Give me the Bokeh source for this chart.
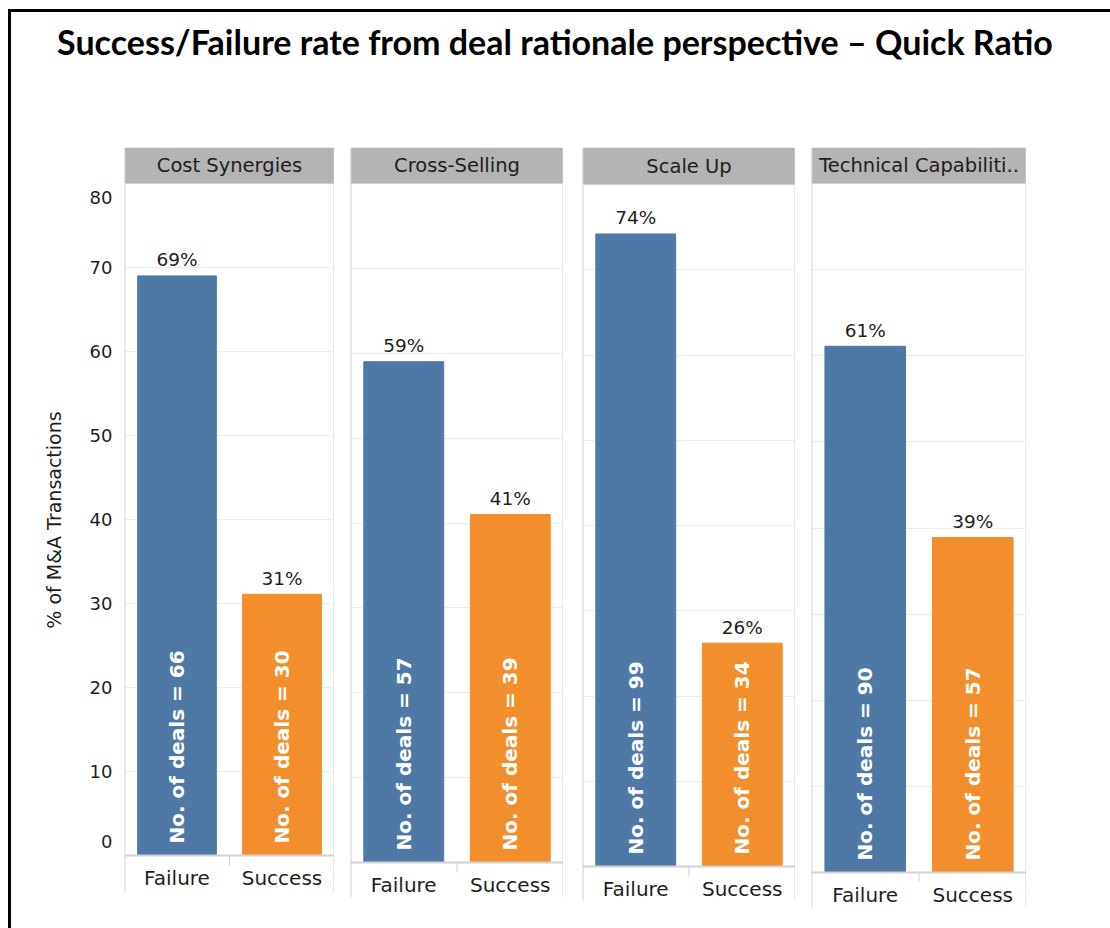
import math
from bokeh.plotting import figure
from bokeh.models import (ColumnDataSource, Range1d, FactorRange, FixedTicker, Span,
                          BoxAnnotation, Label, Div, Spacer)
from bokeh.layouts import row, column
from bokeh.embed import file_html
from bokeh.resources import INLINE
from bokeh.core.properties import value

# ---------------- data ----------------
title_text = "Success/Failure rate from deal rationale perspective \u2013 Quick Ratio"
rationales = ["Cost Synergies", "Cross-Selling", "Scale Up", "Technical Capabiliti.."]
outcomes = ["Failure", "Success"]
failure_pct = [69.0, 59.0, 74.2, 61.1]
success_pct = [31.1, 41.0, 26.2, 38.9]
failure_labels = ["69%", "59%", "74%", "61%"]
success_labels = ["31%", "41%", "26%", "39%"]
failure_deals = [66, 57, 99, 90]
success_deals = [30, 39, 34, 57]
y_ticks = [0, 10, 20, 30, 40, 50, 60, 70, 80]
y_tick_labels = ["0", "10", "20", "30", "40", "50", "60", "70", "80"]
y_axis_title = "% of M&A Transactions"

# ---------------- styling / geometry (pixels) ----------------
BLUE = "#4e79a7"
ORANGE = "#f28e2b"
HEADER = "#b4b4b4"
BORDER = "#d2d2d2"
GRID = "#ededed"
TXT = "#1e1e1e"
FONT = "DejaVu Sans"

row_x0, row_y0 = 11, 140
frame_left = [124, 350, 582, 811]
frame_right = [334, 563, 795, 1026]
header_top = [147, 145, 144, 146]
header_bot = [183, 181, 181, 182]
base_px = [855, 860, 863, 871]
bottom_px = [892, 897, 900, 907]
EDGE_LABEL_NUDGE_PX = 14   # first/last tick labels sit inside the plot, as in the reference
Y_MAX = y_ticks[-1]

figs = []
prev_end = row_x0
for i, name in enumerate(rationales):
    ppu = (base_px[i] - header_bot[i]) / Y_MAX
    y0 = -(bottom_px[i] - base_px[i]) / ppu
    y1 = Y_MAX + (header_bot[i] - header_top[i]) / ppu
    first = i == 0
    p = figure(
        x_range=FactorRange(*outcomes, range_padding=0),
        y_range=Range1d(y0, y1),
        frame_width=frame_right[i] - frame_left[i],
        frame_height=bottom_px[i] - header_top[i],
        min_border_left=frame_left[i] - prev_end,
        min_border_right=0,
        min_border_top=header_top[i] - row_y0,
        min_border_bottom=0,
        x_axis_location=None,
        y_axis_location="left" if first else None,
        toolbar_location=None,
        output_backend="svg",
        outline_line_color=None,
        background_fill_color="white",
        border_fill_color="white",
    )
    prev_end = frame_right[i]
    p.xgrid.visible = False
    p.ygrid.ticker = FixedTicker(ticks=y_ticks)
    p.ygrid.grid_line_color = GRID
    p.ygrid.grid_line_width = 1.2

    if first:
        nudge = EDGE_LABEL_NUDGE_PX / ppu
        tick_pos = list(y_ticks)
        tick_pos[0] = y_ticks[0] + nudge
        tick_pos[-1] = y_ticks[-1] - nudge
        ax = p.yaxis[0]
        ax.ticker = FixedTicker(ticks=tick_pos)
        ax.major_label_overrides = {t: lab for t, lab in zip(tick_pos, y_tick_labels)}
        ax.axis_line_color = None
        ax.major_tick_line_color = None
        ax.minor_tick_line_color = None
        ax.major_tick_out = 0
        ax.major_tick_in = 0
        ax.major_label_standoff = 12
        ax.major_label_text_font = FONT
        ax.major_label_text_font_size = "18px"
        ax.major_label_text_color = TXT
        ax.axis_label = y_axis_title
        ax.axis_label_text_font = FONT
        ax.axis_label_text_font_size = "19px"
        ax.axis_label_text_font_style = "normal"
        ax.axis_label_text_color = TXT
        ax.axis_label_standoff = 22

    src = ColumnDataSource(dict(
        x=outcomes,
        top=[failure_pct[i], success_pct[i]],
        zero=[0, 0],
        color=[BLUE, ORANGE],
        pct=[failure_labels[i], success_labels[i]],
        deals=[f"No. of deals = {failure_deals[i]}", f"No. of deals = {success_deals[i]}"],
    ))
    p.vbar(x="x", top="top", bottom="zero", width=0.75, color="color", source=src)

    p.text(x="x", y="top", text="pct", source=src, y_offset=-16,
           text_align="center", text_baseline="middle",
           text_font=value(FONT), text_font_size="18.5px", text_color=TXT)
    p.text(x="x", y="zero", text="deals", source=src, angle=math.pi / 2,
           y_offset=-12, text_align="left", text_baseline="middle",
           text_font=value(FONT), text_font_size="20px", text_font_style="bold",
           text_color="white")
    p.text(x="x", y="zero", text="x", source=src, y_offset=22,
           text_align="center", text_baseline="middle",
           text_font=value(FONT), text_font_size="20px", text_color=TXT)

    # header band + label
    p.add_layout(BoxAnnotation(bottom=Y_MAX, fill_color=HEADER, fill_alpha=1,
                               line_color=None, level="annotation"))
    p.add_layout(Label(x=1, y=Y_MAX + (header_bot[i] - header_top[i]) / 2 / ppu,
                       text=name, text_align="center", text_baseline="middle",
                       text_font=FONT, text_font_size="19.5px", text_color=TXT))
    # panel borders, baseline
    p.add_layout(Span(location=0, dimension="width", line_color=BORDER, line_width=2))
    p.add_layout(Span(location=0, dimension="height", line_color=BORDER, line_width=2))
    p.add_layout(Span(location=2, dimension="height", line_color=BORDER, line_width=2))
    p.segment(x0=[1], y0=[0], x1=[1], y1=[-10 / ppu], line_color=BORDER, line_width=1)
    figs.append(p)

title_div = Div(
    text=(f'<div style="width:1088px;font-family:Lato;font-weight:700;font-size:34px;'
          f'line-height:34px;text-align:center;padding-top:13px;color:#000;'
          f'white-space:nowrap">{title_text}</div>'),
    width=1099, height=row_y0 - 12, margin=0)
top_line = Div(text="", width=1099, height=3, margin=0, styles={"background-color": "#000"})
left_line = Div(text="", width=3, height=919, margin=0, styles={"background-color": "#000"})

panels = row(*figs, spacing=0)
content = column(top_line, title_div, panels, spacing=0)
layout = column(Spacer(width=1, height=9, margin=0),
                row(Spacer(width=8, height=1, margin=0), left_line, content, spacing=0),
                spacing=0)

open("out.html", "w").write(file_html(layout, INLINE))
